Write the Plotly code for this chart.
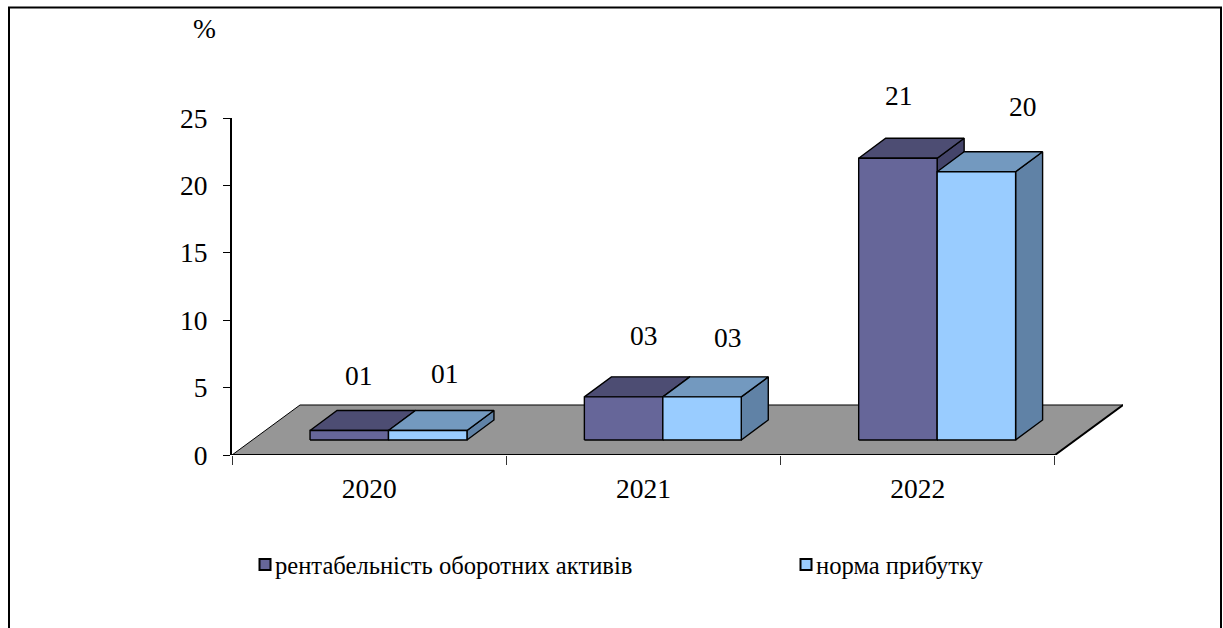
import plotly.graph_objects as go

# --- data ---
categories = ["2020", "2021", "2022"]
series_names = ["рентабельність оборотних активів", "норма прибутку"]
roa_values = [0.7, 3.2, 20.9]
profit_values = [0.7, 3.2, 19.9]
roa_labels = ["01", "03", "21"]
profit_labels = ["01", "03", "20"]
y_ticks = [0, 5, 10, 15, 20, 25]

# --- geometry of the fake 3D view (axis units) ---
N = len(categories)
BAR_W = 0.286
FRONT_X, FRONT_Y = 0.0705, 1.113   # front plane of bars relative to floor front edge
DEPTH_X, DEPTH_Y = 0.0984, 1.484   # bar depth
FLOOR_X, FLOOR_Y = 0.248, 3.71     # floor depth
FONT = "Liberation Serif"
FS = 27.5

STYLES = [
    dict(front="#666699", top="#4d4d73", side="#44446a"),
    dict(front="#99ccff", top="#7399bf", side="#6082a6"),
]
# manual data-label displacement from the top-centre of the bar's front face, px
ROA_LABEL_DX, ROA_LABEL_DY = [10, 20, 1], [55, 61, 63]
PROFIT_LABEL_DX, PROFIT_LABEL_DY = [17, 26, 47], [57, 59, 65]

fig = go.Figure()

fig.add_trace(go.Scatter(
    x=[0, N, N + FLOOR_X, FLOOR_X, 0], y=[0, 0, FLOOR_Y, FLOOR_Y, 0],
    mode="lines", fill="toself", fillcolor="#969696",
    line=dict(color="black", width=1), showlegend=False, hoverinfo="skip"))
fig.add_trace(go.Scatter(
    x=[0, N], y=[0, 0], mode="lines", line=dict(color="black", width=2),
    showlegend=False, hoverinfo="skip", cliponaxis=False))
fig.add_trace(go.Scatter(
    x=[N, N + FLOOR_X], y=[0, FLOOR_Y], mode="lines", line=dict(color="black", width=2),
    showlegend=False, hoverinfo="skip", cliponaxis=False))


def add_series(values, name, style, second, legend_id):
    lefts = [i + 0.5 + FRONT_X - (0 if second else BAR_W) for i in range(N)]
    polys = {"side": ([], []), "top": ([], []), "front": ([], [])}
    for l, v in zip(lefts, values):
        r = l + BAR_W
        b = FRONT_Y
        t = FRONT_Y + v
        polys["side"][0].extend([r, r + DEPTH_X, r + DEPTH_X, r, r, None])
        polys["side"][1].extend([b, b + DEPTH_Y, t + DEPTH_Y, t, b, None])
        polys["top"][0].extend([l, l + DEPTH_X, r + DEPTH_X, r, l, None])
        polys["top"][1].extend([t, t + DEPTH_Y, t + DEPTH_Y, t, t, None])
        polys["front"][0].extend([l, r, r, l, l, None])
        polys["front"][1].extend([b, b, t, t, b, None])
    for key in ("side", "top", "front"):
        fig.add_trace(go.Scatter(
            x=polys[key][0], y=polys[key][1], mode="lines", fill="toself",
            fillcolor=style[key], line=dict(color="black", width=1.4),
            showlegend=False, hoverinfo="skip", name=name))
    fig.add_trace(go.Scatter(
        x=[None], y=[None], mode="markers", name=name, legend=legend_id,
        marker=dict(symbol="square", size=11, color=style["front"],
                    line=dict(color="black", width=2))))


add_series(roa_values, series_names[0], STYLES[0], False, "legend")
add_series(profit_values, series_names[1], STYLES[1], True, "legend2")

annotations = []
for i in range(N):
    for second, vals, labs, dxs, dys in (
        (False, roa_values, roa_labels, ROA_LABEL_DX, ROA_LABEL_DY),
        (True, profit_values, profit_labels, PROFIT_LABEL_DX, PROFIT_LABEL_DY),
    ):
        cx = i + 0.5 + FRONT_X + (BAR_W / 2 if second else -BAR_W / 2)
        annotations.append(dict(
            x=cx, y=vals[i] + FRONT_Y, xref="x", yref="y", text=labs[i], showarrow=False,
            xshift=dxs[i], yshift=dys[i], xanchor="center", yanchor="middle",
            font=dict(family=FONT, size=FS, color="black")))
annotations.append(dict(
    x=(204 - 232) / 891, y=(455 - 28) / 337, xref="paper", yref="paper", text="%",
    showarrow=False, xanchor="center", yanchor="middle", font=dict(family=FONT, size=FS)))

legend_common = dict(
    orientation="v", yanchor="top", xanchor="left",
    font=dict(family=FONT, size=24.6, color="black"), bgcolor="rgba(0,0,0,0)",
)

fig.update_layout(
    width=1223, height=628, autosize=False,
    margin=dict(l=232, r=100, t=118, b=173, pad=0),
    paper_bgcolor="white", plot_bgcolor="white",
    font=dict(family=FONT, size=FS, color="black"),
    xaxis=dict(
        range=[0, N + FLOOR_X], showgrid=False, zeroline=False, showline=False,
        tickmode="array", tickvals=[i + 0.5 for i in range(N)], ticktext=categories,
        ticks="", ticklabelstandoff=14, tickangle=0, automargin=False,
        tickfont=dict(family=FONT, size=FS, color="black"),
        minor=dict(tickmode="array", tickvals=list(range(N + 1)), ticks="outside",
                   ticklen=9, tickwidth=1, tickcolor="#333333", showgrid=False),
    ),
    yaxis=dict(
        range=[0, y_ticks[-1]], showgrid=False, zeroline=False, showline=True,
        linecolor="black", linewidth=2, tickvals=y_ticks, ticks="outside",
        ticklen=7, tickwidth=1, tickcolor="black", ticklabelstandoff=10, automargin=False,
        tickfont=dict(family=FONT, size=FS, color="black"),
    ),
    legend=dict(x=(235 - 232) / 891, y=(455 - 542) / 337, **legend_common),
    legend2=dict(x=(776 - 232) / 891, y=(455 - 542) / 337, **legend_common),
    annotations=annotations,
    shapes=[dict(
        type="path", xref="paper", yref="paper", line=dict(color="black", width=2),
        path="M {l},{b} L {l},{t} L {r},{t} L {r},{b}".format(
            l=(9 - 232) / 891, r=(1221 - 232) / 891, t=(455 - 7.5) / 337, b=(455 - 640) / 337),
    )],
)
# legend swatches sit closer to their text in the reference
POST = """
document.body.style.margin='0';
document.documentElement.style.overflow='hidden';
document.querySelectorAll('.legend path.scatterpts, .legend2 path.scatterpts').forEach(function(p){
  var m=/translate\\(([-\\d.]+)/.exec(p.getAttribute('transform')||'');
  if(m){p.setAttribute('transform','translate('+(parseFloat(m[1])+10)+',0)');}
});
"""
fig.write_html("out.html", config={"displayModeBar": False}, post_script=POST)
